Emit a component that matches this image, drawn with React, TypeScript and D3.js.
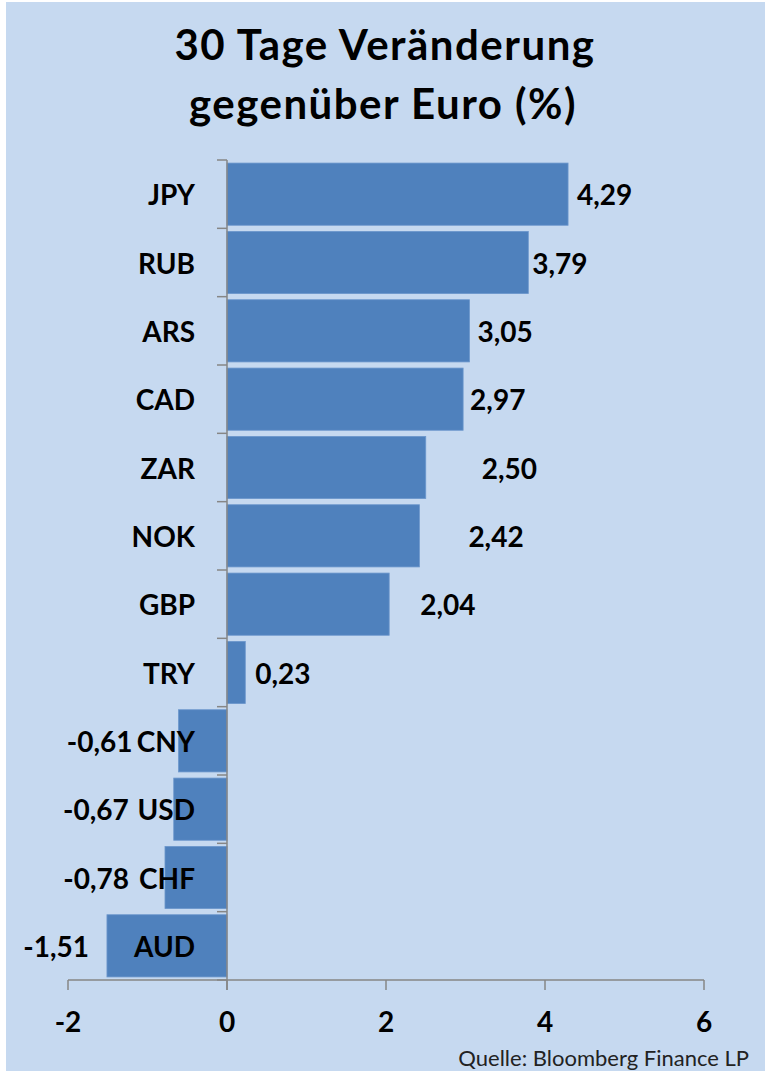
import React from 'react';
import * as d3 from 'd3';

const currencies = ['JPY', 'RUB', 'ARS', 'CAD', 'ZAR', 'NOK', 'GBP', 'TRY', 'CNY', 'USD', 'CHF', 'AUD'];
const changes = [4.29, 3.79, 3.05, 2.97, 2.5, 2.42, 2.04, 0.23, -0.61, -0.67, -0.78, -1.51];
const xTicks = [-2, 0, 2, 4, 6];
// hand-placed label offsets (px from bar end), like in the original sheet
const labelNudge = [9, 4, 8, 7, 56, 49, 31, 10, -46, -45, -36, -18];

const W = 772;
const H = 1071;
const FONT = "Lato, 'Open Sans', sans-serif";

const fmt = (v: number) => v.toFixed(2).replace('.', ',');

export default function App() {
  const x = d3.scaleLinear().domain([-2, 6]).range([68, 704]);
  const y = d3.scaleBand<string>()
    .domain(currencies)
    .range([160, 980])
    .paddingInner(0.09)
    .paddingOuter(0.045);

  const step = y.step();
  const axisY = 980;

  return (
    <svg width={W} height={H} style={{ position: 'absolute', left: 0, top: 0 }} fontFamily={FONT}>
      <rect x={0} y={0} width={W} height={H} fill="#ffffff" />
      <rect x={6} y={2} width={759} height={H - 2} fill="#c6d9f0" />

      <text x={385} y={60} textAnchor="middle" fontSize={42} letterSpacing={1.5} fontWeight="bold" fill="#000">
        30 Tage Veränderung
      </text>
      <text x={383} y={119} textAnchor="middle" fontSize={42} letterSpacing={1.5} fontWeight="bold" fill="#000">
        gegenüber Euro (%)
      </text>

      {currencies.map((c, i) => {
        const v = changes[i];
        const x0 = x(Math.min(0, v));
        const x1 = x(Math.max(0, v));
        const yy = y(c) as number;
        return (
          <rect key={c} x={x0} y={yy} width={x1 - x0} height={y.bandwidth()}
            fill="#4f81bd" stroke="#6c97cc" strokeWidth={0.8} />
        );
      })}

      {/* category axis */}
      <line x1={x(0)} x2={x(0)} y1={160} y2={axisY + 10} stroke="#868686" strokeWidth={1.5} />
      {d3.range(currencies.length + 1).map((i) => (
        <line key={'ct' + i} x1={x(0) - 10} x2={x(0)} y1={160 + i * step} y2={160 + i * step}
          stroke="#868686" strokeWidth={1.5} />
      ))}

      {/* value axis */}
      <line x1={x(-2)} x2={x(6)} y1={axisY} y2={axisY} stroke="#868686" strokeWidth={1.5} />
      {xTicks.map((t) => (
        <g key={'xt' + t}>
          <line x1={x(t)} x2={x(t)} y1={axisY} y2={axisY + 10} stroke="#868686" strokeWidth={1.5} />
          <text x={x(t)} y={1032} textAnchor="middle" fontSize={28} fontWeight="bold" fill="#000">
            {t}
          </text>
        </g>
      ))}

      {currencies.map((c, i) => {
        const v = changes[i];
        const mid = (y(c) as number) + y.bandwidth() / 2;
        const end = x(v) + labelNudge[i];
        return (
          <g key={'lb' + c}>
            <text x={195} y={mid + 11} textAnchor="end" fontSize={28} fontWeight="bold" fill="#000">
              {c}
            </text>
            <text x={end} y={mid + 11} textAnchor={v >= 0 ? 'start' : 'end'}
              fontSize={28} fontWeight="bold" fill="#000">
              {fmt(v)}
            </text>
          </g>
        );
      })}

      <text x={749} y={1066} textAnchor="end" fontSize={22} fill="#222">
        Quelle: Bloomberg Finance LP
      </text>
    </svg>
  );
}
